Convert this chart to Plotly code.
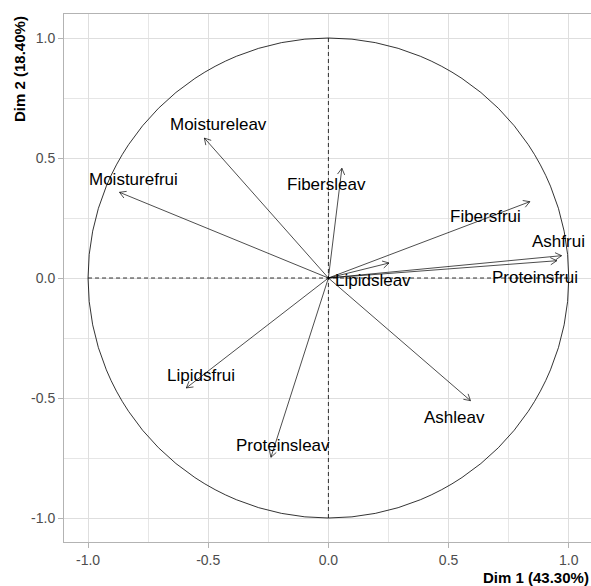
import numpy as np
import plotly.graph_objects as go

# PCA variable coordinates
variables = ["Moisturefrui", "Moistureleav", "Fibersleav", "Fibersfrui", "Ashfrui",
             "Proteinsfrui", "Lipidsleav", "Ashleav", "Lipidsfrui", "Proteinsleav"]
dim1 = [-0.869, -0.516, 0.056, 0.838, 0.970, 0.950, 0.252, 0.591, -0.591, -0.239]
dim2 = [0.357, 0.583, 0.457, 0.318, 0.093, 0.072, 0.0625, -0.511, -0.458, -0.747]

# label anchor positions (as placed by the original plot)
label_x = [-0.809, -0.459, -0.006, 0.653, 0.956, 0.860, 0.184, 0.526, -0.531, -0.190]
label_y = [0.410, 0.639, 0.390, 0.257, 0.151, 0.003, -0.011, -0.580, -0.407, -0.699]

x_ticks = [-1.0, -0.5, 0.0, 0.5, 1.0]
y_ticks = [-1.0, -0.5, 0.0, 0.5, 1.0]
x_title = "Dim 1 (43.30%)"
y_title = "Dim 2 (18.40%)"

FONT = "Arial, Liberation Sans, sans-serif"
fig = go.Figure()

# arrows
head_len = 0.03
head_ang = np.deg2rad(30)
for vx, vy in zip(dim1, dim2):
    ang = np.arctan2(vy, vx)
    h1x = vx - head_len * np.cos(ang - head_ang)
    h1y = vy - head_len * np.sin(ang - head_ang)
    h2x = vx - head_len * np.cos(ang + head_ang)
    h2y = vy - head_len * np.sin(ang + head_ang)
    fig.add_trace(go.Scatter(
        x=[0, vx, None, h1x, vx, h2x],
        y=[0, vy, None, h1y, vy, h2y],
        mode="lines", line=dict(color="black", width=0.7),
        hoverinfo="skip", showlegend=False))

# labels
for name, lx, ly in zip(variables, label_x, label_y):
    fig.add_annotation(x=lx, y=ly, text=name, showarrow=False,
                       xanchor="center", yanchor="middle",
                       font=dict(family=FONT, size=17, color="black"))

# circle and dashed axes
fig.add_shape(type="circle", xref="x", yref="y", x0=-1, y0=-1, x1=1, y1=1,
              line=dict(color="black", width=0.8), layer="above")
fig.add_shape(type="line", xref="x", yref="y", x0=-1, y0=0, x1=1, y1=0,
              line=dict(color="black", width=0.8, dash="4px,3px"), layer="above")
fig.add_shape(type="line", xref="x", yref="y", x0=0, y0=-1, x1=0, y1=1,
              line=dict(color="black", width=0.8, dash="4px,3px"), layer="above")

# axis titles
fig.add_annotation(xref="paper", yref="paper", x=1, y=0, xanchor="right", yanchor="top",
                   yshift=-25, text="<b>" + x_title + "</b>", showarrow=False,
                   font=dict(family=FONT, size=15, color="black"))
fig.add_annotation(xref="paper", yref="paper", x=-45 / 527, y=1, xanchor="center",
                   yanchor="top", textangle=-90, text="<b>" + y_title + "</b>",
                   showarrow=False, font=dict(family=FONT, size=15, color="black"))

axis_common = dict(
    showgrid=True, gridcolor="#DEDEDE", gridwidth=1,
    zeroline=False, showline=True, linecolor="#B3B3B3", linewidth=1,
    ticks="outside", ticklen=5, tickcolor="#B3B3B3", tickwidth=1,
    tickfont=dict(family=FONT, size=14, color="#4D4D4D"),
    minor=dict(showgrid=True, gridcolor="#E6E6E6", gridwidth=0.7, dtick=0.25, ticks=""),
)

fig.update_xaxes(range=[-1.1, 1.0925], tickvals=x_ticks,
                 ticktext=[f"{v:.1f}" for v in x_ticks], mirror=True, **axis_common)
fig.update_yaxes(range=[-1.1, 1.1], tickvals=y_ticks,
                 ticktext=[f"{v:.1f}" for v in y_ticks], mirror=False, **axis_common)

fig.update_layout(
    width=591, height=586,
    margin=dict(l=64, r=0, t=14, b=44),
    plot_bgcolor="white", paper_bgcolor="white",
    showlegend=False,
)

fig.write_html("out.html", config={"displayModeBar": False},
               post_script="document.body.style.margin='0';document.body.style.overflow='hidden';")
